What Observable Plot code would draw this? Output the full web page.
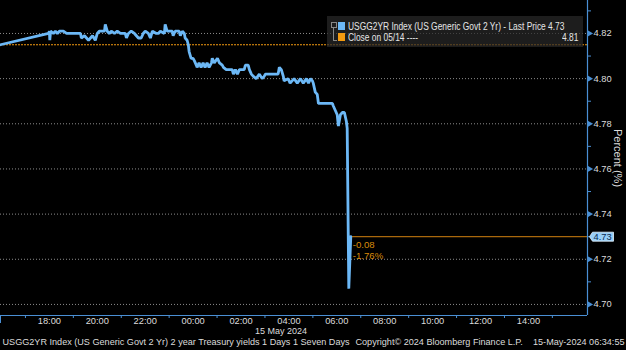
<!DOCTYPE html>
<html>
<head>
<meta charset="utf-8">
<script src="https://cdn.jsdelivr.net/npm/d3@7"></script>
<script src="https://cdn.jsdelivr.net/npm/@observablehq/plot@0.6"></script>
<style>
  html, body { margin: 0; padding: 0; background: #000; }
  #wrap { position: relative; width: 626px; height: 350px; overflow: hidden; font-family: 'Liberation Sans', Arial, sans-serif; }
  #legend { position: absolute; left: 327px; top: 16px; width: 256px; height: 31px; background: rgba(40,40,40,0.72); }
  .lg { position: absolute; font-size: 10px; color: #e6e6e6; white-space: nowrap; line-height: 11px; transform: scaleX(0.84); transform-origin: left center; }
  .lgr { transform-origin: right center; }
  .sw { position: absolute; width: 7px; height: 8px; }
</style>
</head>
<body>
<div id="wrap"></div>
<script>
// ---- data ----
const times = [
  "05-14 15:57","05-14 17:58","05-14 18:00","05-14 18:01","05-14 18:03","05-14 18:10","05-14 18:15","05-14 18:20","05-14 18:25","05-14 18:35",
  "05-14 18:43","05-14 19:18","05-14 19:20","05-14 19:28","05-14 19:38","05-14 19:48","05-14 19:55","05-14 20:00","05-14 20:05","05-14 20:18",
  "05-14 20:20","05-14 20:25","05-14 20:30","05-14 20:35","05-14 20:43","05-14 20:50","05-14 20:58","05-14 21:10","05-14 21:13","05-14 21:18",
  "05-14 21:25","05-14 21:33","05-14 21:43","05-14 21:50","05-14 21:55","05-14 22:00","05-14 22:08","05-14 22:13","05-14 22:18","05-14 22:28",
  "05-14 22:33","05-14 22:38","05-14 22:48","05-14 22:50","05-14 22:55","05-14 23:08","05-14 23:10","05-14 23:15","05-14 23:25","05-14 23:28",
  "05-14 23:33","05-14 23:38","05-14 23:40","05-14 23:45","05-14 23:48","05-14 23:50","05-14 23:55","05-15 00:00","05-15 00:03","05-15 00:08",
  "05-15 00:10","05-15 00:15","05-15 00:20","05-15 00:25","05-15 00:30","05-15 00:35","05-15 00:40","05-15 00:46","05-15 00:48","05-15 00:53",
  "05-15 01:01","05-15 01:06","05-15 01:13","05-15 01:16","05-15 01:23","05-15 01:26","05-15 01:38","05-15 01:41","05-15 01:46","05-15 01:51",
  "05-15 01:56","05-15 02:08","05-15 02:11","05-15 02:18","05-15 02:21","05-15 02:26","05-15 02:31","05-15 02:38","05-15 02:46","05-15 02:53",
  "05-15 02:58","05-15 03:01","05-15 03:33","05-15 03:36","05-15 03:41","05-15 03:46","05-15 03:48","05-15 03:58","05-15 04:03","05-15 04:13",
  "05-15 04:21","05-15 04:29","05-15 04:36","05-15 04:44","05-15 04:49","05-15 04:54","05-15 04:59","05-15 05:01","05-15 05:06","05-15 05:11",
  "05-15 05:14","05-15 05:49","05-15 05:51","05-15 05:56","05-15 06:01","05-15 06:04","05-15 06:09","05-15 06:14","05-15 06:19","05-15 06:24",
  "05-15 06:26","05-15 06:30","05-15 06:35"
];
const yields = [
  4.815,4.820,4.821,4.817,4.821,4.820,4.821,4.820,4.821,4.821,
  4.820,4.820,4.818,4.819,4.817,4.819,4.817,4.820,4.821,4.821,
  4.824,4.821,4.820,4.821,4.820,4.821,4.820,4.820,4.818,4.820,
  4.821,4.820,4.818,4.818,4.820,4.821,4.820,4.818,4.821,4.820,
  4.820,4.821,4.820,4.824,4.821,4.821,4.819,4.821,4.821,4.819,
  4.821,4.820,4.818,4.817,4.815,4.812,4.809,4.809,4.808,4.806,
  4.805,4.807,4.805,4.807,4.805,4.807,4.805,4.807,4.809,4.807,
  4.809,4.807,4.806,4.805,4.804,4.804,4.804,4.802,4.804,4.802,
  4.804,4.804,4.806,4.806,4.804,4.802,4.801,4.800,4.802,4.800,
  4.801,4.802,4.802,4.805,4.804,4.801,4.799,4.800,4.798,4.800,
  4.798,4.800,4.798,4.800,4.798,4.800,4.799,4.798,4.794,4.793,
  4.789,4.789,4.788,4.786,4.784,4.779,4.784,4.785,4.785,4.781,
  4.778,4.707,4.730
];
const closeValue = 4.815;
const lastValue = 4.730;
const lastTime = "05-15 06:35";
const xDomain = ["05-14 15:57:30", "05-15 16:28:00"];
const yDomain = [4.6951, 4.8346];
const yTicks = [4.70, 4.72, 4.74, 4.76, 4.78, 4.80, 4.82];
const yMinorTicks = [4.71, 4.73, 4.75, 4.77, 4.79, 4.81, 4.83];
const xLabelTicks = ["05-14 18:00","05-14 20:00","05-14 22:00","05-15 00:00","05-15 02:00","05-15 04:00","05-15 06:00","05-15 08:00","05-15 10:00","05-15 12:00","05-15 14:00"];
const xMinorTicks = ["05-14 17:00","05-14 19:00","05-14 21:00","05-14 23:00","05-15 01:00","05-15 03:00","05-15 05:00","05-15 07:00","05-15 09:00","05-15 11:00","05-15 13:00","05-15 15:00"];
const dateLabel = "15 May 2024";
const changeLabels = ["-0.08", "-1.76%"];
const lastLabel = "4.73";
const yAxisLabel = "Percent (%)";
const legendSeries = "USGG2YR Index (US Generic Govt 2 Yr) - Last Price 4.73";
const legendClose = "Close on 05/14 ----";
const legendCloseValue = "4.81";
const footerLeft = "USGG2YR Index (US Generic Govt 2 Yr) 2 year Treasury yields 1 Days 1 Seven Days";
const footerMid = "Copyright\u00A9 2024 Bloomberg Finance L.P.";
const footerRight = "15-May-2024 06:34:55";

// ---- build ----
const parse = s => new Date("2024-" + s.replace(" ", "T") + (s.length > 11 ? "Z" : ":00Z"));
const data = times.map((t, i) => ({t: parse(t), v: yields[i]}));
const xd = xDomain.map(parse);
const tLast = parse(lastTime);

const BLUE = "#6cb8f6";
const AXIS = "#4a8fd4";
const TXT = "#dcdcdc";
const FONT = "'Liberation Sans',Arial,sans-serif";

const badge = {
  draw(ctx) {
    ctx.moveTo(2, 0);
    ctx.lineTo(5, -4.5);
    ctx.lineTo(26, -4.5);
    ctx.lineTo(26, 4.5);
    ctx.lineTo(5, 4.5);
    ctx.closePath();
  }
};

const chart = Plot.plot({
  width: 626,
  height: 350,
  marginLeft: 0,
  marginRight: 39,
  marginTop: 0,
  marginBottom: 35,
  style: {background: "#000", color: TXT, fontFamily: FONT, fontSize: "9.3px", overflow: "visible"},
  x: {type: "utc", domain: xd, axis: null, label: null},
  y: {domain: yDomain, axis: null, label: null},
  marks: [
    Plot.ruleY(yTicks, {stroke: "#8c8c8c", strokeDasharray: "1,2", strokeWidth: 1}),
    Plot.ruleY([closeValue], {stroke: "#f39a10", strokeDasharray: "2,1", strokeWidth: 1}),
    Plot.ruleY([lastValue], {x1: tLast, x2: xd[1], stroke: "#a9680c", strokeWidth: 1.3}),
    Plot.line(data, {x: "t", y: "v", stroke: BLUE, strokeWidth: 2.8, strokeLinejoin: "miter"}),
    Plot.text([changeLabels[0]], {x: tLast, y: lastValue, text: d => d, dx: 2, dy: 8, textAnchor: "start", fill: "#d98a0a", fontSize: 9.6}),
    Plot.text([changeLabels[1]], {x: tLast, y: lastValue, text: d => d, dx: 2, dy: 19, textAnchor: "start", fill: "#d98a0a", fontSize: 9.6}),
    // axes lines
    Plot.ruleX([xd[1]], {stroke: AXIS, strokeWidth: 1.2}),
    Plot.ruleY([yDomain[0]], {stroke: AXIS, strokeWidth: 1.2}),
    Plot.axisX([xd[0]], {anchor: "bottom", tickSize: 8, tickFormat: () => "", stroke: AXIS, label: null}),
    Plot.axisX(xMinorTicks.map(parse), {anchor: "bottom", tickSize: 3, tickFormat: () => "", stroke: AXIS, label: null}),
    Plot.axisX(xLabelTicks.map(parse), {anchor: "bottom", tickSize: 0, tickPadding: 2, tickFormat: d3.utcFormat("%H:%M"), fill: TXT, fontSize: 9.3, label: null}),
    Plot.text([dateLabel], {x: parse("05-15 04:00"), frameAnchor: "bottom", text: d => d, dy: 18.6, dx: -8, fill: TXT, fontSize: 9}),
    Plot.axisY(yMinorTicks, {anchor: "right", tickSize: 3, tickFormat: () => "", stroke: AXIS, label: null}),
    Plot.dot(yTicks, {y: d => d, frameAnchor: "right", symbol: "triangle", r: 2.3, rotate: 90, fill: AXIS, dx: 2}),
    Plot.axisY(yTicks, {anchor: "right", tickSize: 0, tickPadding: 6, tickFormat: ".2f", fill: TXT, fontSize: 9.3, label: null}),
    Plot.text([yAxisLabel], {frameAnchor: "right", text: d => d, rotate: 90, dx: 30, textAnchor: "middle", fill: TXT, fontSize: 11}),
    Plot.dot([lastValue], {y: d => d, frameAnchor: "right", symbol: badge, fill: "#98cff8", stroke: "#e6f4ff", strokeWidth: 0.8}),
    Plot.text([lastLabel], {y: lastValue, frameAnchor: "right", text: d => d, dx: 6, textAnchor: "start", fill: "#0a2a50", fontSize: 9.3}),
    // footer
    Plot.text([footerLeft], {frameAnchor: "bottom-left", text: d => d, dx: 2, dy: 29, textAnchor: "start", fill: TXT, fontSize: 9.1}),
    Plot.text([footerMid], {frameAnchor: "bottom-left", text: d => d, dx: 355, dy: 29, textAnchor: "start", fill: TXT, fontSize: 9.1}),
    Plot.text([footerRight], {frameAnchor: "bottom-right", text: d => d, dx: 37, dy: 29, textAnchor: "end", fill: TXT, fontSize: 9.1})
  ]
});

const wrap = document.getElementById("wrap");
wrap.appendChild(chart);

// legend overlay
const lg = document.createElement("div");
lg.id = "legend";
lg.innerHTML = `
  <div style="position:absolute;left:4px;top:6px;width:4px;height:4px;border:1px solid #888"></div>
  <div style="position:absolute;left:6px;top:12px;width:1px;height:13px;background:#888"></div>
  <div style="position:absolute;left:6px;top:24px;width:4px;height:1px;background:#888"></div>
  <div class="sw" style="left:11px;top:6px;background:${BLUE}"></div>
  <div class="sw" style="left:11px;top:17px;background:#f39a10"></div>
  <div class="lg" style="left:21px;top:5px">${legendSeries}</div>
  <div class="lg" style="left:21px;top:16px">${legendClose}</div>
  <div class="lg lgr" style="right:5px;top:16px">${legendCloseValue}</div>`;
wrap.appendChild(lg);
</script>
</body>
</html>
